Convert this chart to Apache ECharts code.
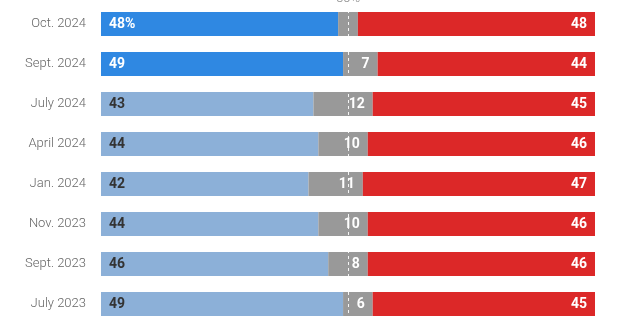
<!DOCTYPE html>
<html><head><meta charset="utf-8">
<script src="https://cdn.jsdelivr.net/npm/echarts@6/dist/echarts.min.js"></script>
<style>html,body{margin:0;padding:0;background:#fff}#c{width:640px;height:327px}</style>
</head><body><div id="c"></div>
<script>
const categories = ['Oct. 2024','Sept. 2024','July 2024','April 2024','Jan. 2024','Nov. 2023','Sept. 2023','July 2023'];
const blueValues = [48,49,43,44,42,44,46,49];
const grayValues = [4,7,12,10,11,10,8,6];
const redValues = [48,44,45,46,47,46,46,45];
const highlightRows = 2;

const FONT = 'Roboto,sans-serif';
const chart = echarts.init(document.getElementById('c'));
chart.setOption({
  animation:false,
  grid:{left:101,right:45,top:4,bottom:3},
  xAxis:{type:'value',min:0,max:100,show:false},
  yAxis:{type:'category',data:categories,inverse:true,
    axisLine:{show:false},axisTick:{show:false},
    axisLabel:{color:'#666',fontFamily:FONT,fontWeight:300,fontSize:13,margin:15}},
  series:[
    {type:'bar',stack:'t',barWidth:24,
      data:blueValues.map((v,i)=>({value:v,
        itemStyle:{color:i<highlightRows?'#2f88e2':'#8cb0d8'},
        label:{color:i<highlightRows?'#fff':'#333'}})),
      label:{show:true,position:'insideLeft',distance:8,fontFamily:FONT,fontWeight:'bold',fontSize:14,
        formatter:p=>p.dataIndex===0?p.value+'%':p.value}},
    {type:'bar',stack:'t',barWidth:24,
      data:grayValues.map((v,i)=>({value:v,label:{show:i>0}})),
      itemStyle:{color:'#999999'},
      label:{show:true,position:'insideRight',distance:8,color:'#fff',fontFamily:FONT,fontWeight:'bold',fontSize:14},
      markLine:{symbol:'none',silent:true,
        lineStyle:{color:'#fff',type:[3,3],width:1,opacity:0.9},
        label:{show:true,position:'start',distance:-1,formatter:'50%',color:'#777',fontFamily:FONT,fontWeight:300,fontSize:13},
        data:[{xAxis:50}],z:10}},
    {type:'bar',stack:'t',barWidth:24,
      data:redValues,
      itemStyle:{color:'#dc2828'},
      label:{show:true,position:'insideRight',distance:8,color:'#fff',fontFamily:FONT,fontWeight:'bold',fontSize:14}}
  ]
});
</script></body></html>
